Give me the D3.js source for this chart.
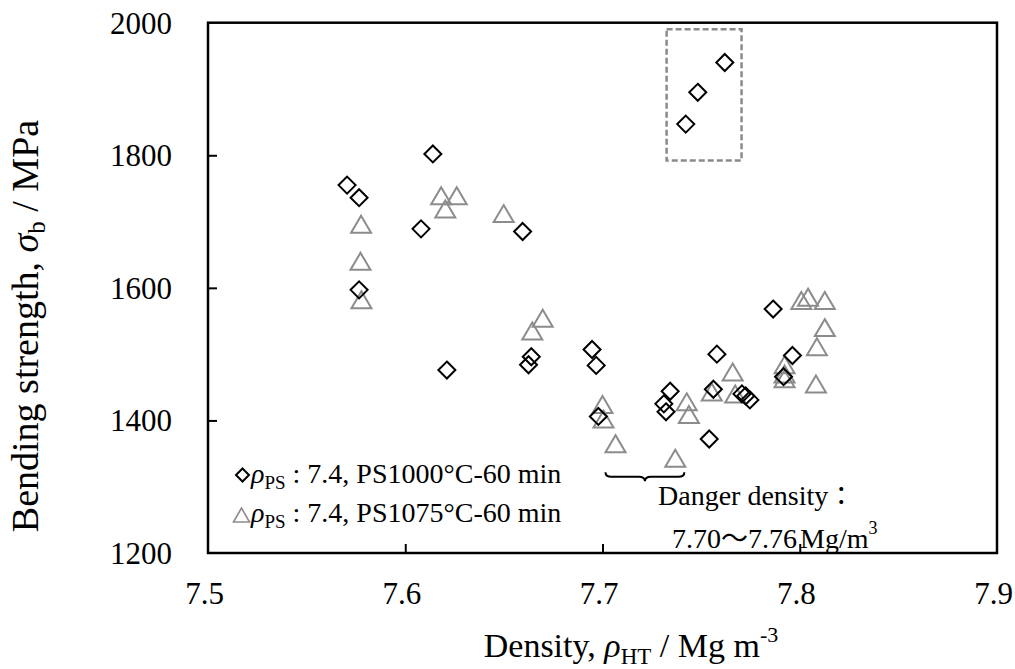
<!DOCTYPE html>
<html>
<head>
<meta charset="utf-8">
<script src="https://cdn.jsdelivr.net/npm/d3@7"></script>
<style>
  body { margin: 0; background: #fff; }
  svg { display: block; }
  text, tspan { font-family: "Liberation Serif", "Times New Roman", serif; fill: #000; }
  tspan.cjk { font-family: "Noto Sans CJK JP", "Noto Sans CJK SC", sans-serif; }
</style>
</head>
<body>
<svg id="chart" width="1015" height="669"></svg>
<script>
// Sintered at 1000 °C for 60 min: density (Mg/m^3) and bending strength (MPa)
const ps1000Density  = [7.5705, 7.5766, 7.5766, 7.6140, 7.6080, 7.6595, 7.6211, 7.6639, 7.6625,
                        7.6947, 7.6968, 7.6979, 7.7311, 7.7322, 7.7343, 7.7541, 7.7562, 7.7580,
                        7.7707, 7.7726, 7.7747, 7.7865, 7.7963, 7.7918, 7.7422, 7.7483, 7.7620];
const ps1000Strength = [1755, 1736, 1597, 1802, 1689, 1685, 1476, 1496, 1484,
                        1507, 1483, 1406, 1425, 1413, 1444, 1372, 1447, 1500,
                        1440, 1437, 1431, 1568, 1498, 1466, 1847, 1895, 1940];

// Sintered at 1075 °C for 60 min
const ps1075Density  = [7.5776, 7.5773, 7.5778, 7.6182, 7.6203, 7.6261, 7.6499, 7.6644, 7.6697,
                        7.7000, 7.7005, 7.7066, 7.7369, 7.7427, 7.7438, 7.7554, 7.7660, 7.7673,
                        7.7923, 7.7923, 7.7923, 7.8008, 7.8042, 7.8127, 7.8127, 7.8087, 7.8082];
const ps1075Strength = [1696, 1640, 1582, 1739, 1719, 1739, 1712, 1535, 1554,
                        1424, 1402, 1365, 1343, 1428, 1409, 1443, 1473, 1440,
                        1484, 1470, 1463, 1581, 1586, 1581, 1540, 1511, 1455];

// Highlighted high-strength group (dashed box) and danger-density brace
const boxDensity  = [7.7325, 7.7705];
const boxStrength = [1792, 1990];
const braceDensity = [7.7015, 7.7415];
const braceStrength = 1322;

const xTicks = [7.5, 7.6, 7.7, 7.8, 7.9];
const yTicks = [1200, 1400, 1600, 1800, 2000];

const svg = d3.select("#chart");
const plot = { left: 208, right: 997, top: 22.7, bottom: 553 };
const serif = '"Liberation Serif", "Times New Roman", serif';

const x = d3.scaleLinear().domain([7.5, 7.9]).range([plot.left, plot.right]);
const y = d3.scaleLinear().domain([1200, 2000]).range([plot.bottom, plot.top]);

// Axes with inward ticks
const xAxis = svg.append("g").attr("transform", `translate(0,${plot.bottom})`)
  .call(d3.axisBottom(x).tickValues(xTicks).tickSizeInner(-9).tickSizeOuter(0)
        .tickFormat(d3.format(".1f")));
xAxis.select(".domain").remove();
xAxis.attr("font-family", serif);
xAxis.selectAll(".tick line").attr("stroke", "#000").attr("stroke-width", 2);
xAxis.selectAll(".tick text").attr("font-size", 31).attr("y", 51).attr("dy", 0)
  .attr("dx", -4).attr("fill", "#000").style("font-family", serif);
xAxis.selectAll(".tick").filter(d => d === 7.5 || d === 7.9).select("line").remove();

const yAxis = svg.append("g").attr("transform", `translate(${plot.left},0)`)
  .call(d3.axisLeft(y).tickValues(yTicks).tickSizeInner(-9).tickSizeOuter(0)
        .tickFormat(d3.format("d")));
yAxis.select(".domain").remove();
yAxis.attr("font-family", serif);
yAxis.selectAll(".tick line").attr("stroke", "#000").attr("stroke-width", 2);
yAxis.selectAll(".tick text").attr("font-size", 31).attr("x", -36).attr("dy", "0.34em")
  .attr("fill", "#000").style("font-family", serif);
yAxis.selectAll(".tick").filter(d => d === 1200 || d === 2000).select("line").remove();

// Plot frame
svg.append("rect")
  .attr("x", x(7.5)).attr("y", y(2000))
  .attr("width", x(7.9) - x(7.5)).attr("height", y(1200) - y(2000))
  .attr("fill", "none").attr("stroke", "#000").attr("stroke-width", 2.5);

// Dashed box round the high-strength group
svg.append("rect")
  .attr("x", x(boxDensity[0])).attr("y", y(boxStrength[1]))
  .attr("width", x(boxDensity[1]) - x(boxDensity[0]))
  .attr("height", y(boxStrength[0]) - y(boxStrength[1]))
  .attr("fill", "none").attr("stroke", "#8a8a8a").attr("stroke-width", 2.5)
  .attr("stroke-dasharray", "6,3");

// Marker shapes
const diamondPath = (cx, cy, r) => `M${cx},${cy - r}L${cx + r},${cy}L${cx},${cy + r}L${cx - r},${cy}Z`;
const trianglePath = (cx, cy, w, h) =>
  `M${cx},${cy - h / 2}L${cx + w / 2},${cy + h / 2}L${cx - w / 2},${cy + h / 2}Z`;

const tri = d3.range(ps1075Density.length).map(i => [ps1075Density[i], ps1075Strength[i]]);
const dia = d3.range(ps1000Density.length).map(i => [ps1000Density[i], ps1000Strength[i]]);

svg.append("g").selectAll("path").data(tri).join("path")
  .attr("d", d => trianglePath(x(d[0]), y(d[1]), 20, 17))
  .attr("fill", "none").attr("stroke", "#8c8c8c").attr("stroke-width", 2);

svg.append("g").selectAll("path").data(dia).join("path")
  .attr("d", d => diamondPath(x(d[0]), y(d[1]), 8.5))
  .attr("fill", "none").attr("stroke", "#000").attr("stroke-width", 2);

// Brace under the danger-density range
{
  const x0 = x(braceDensity[0]), x1 = x(braceDensity[1]);
  const xm = (x0 + x1) / 2, yt = y(braceStrength), h = 4.5;
  svg.append("path")
    .attr("d", `M${x0},${yt}Q${x0},${yt + h} ${x0 + 6},${yt + h}L${xm - 6},${yt + h}` +
               `Q${xm},${yt + h} ${xm},${yt + 2 * h}Q${xm},${yt + h} ${xm + 6},${yt + h}` +
               `L${x1 - 6},${yt + h}Q${x1},${yt + h} ${x1},${yt}`)
    .attr("fill", "none").attr("stroke", "#000").attr("stroke-width", 2);
}

// Annotation
{
  const t = svg.append("text").attr("x", 658).attr("y", 505).attr("font-size", 28);
  t.append("tspan").text("Danger density");
  t.append("tspan").attr("class", "cjk").attr("font-size", 26).text("：");
}
{
  const t = svg.append("text").attr("x", 672).attr("y", 548).attr("font-size", 28);
  t.append("tspan").text("7.70");
  t.append("tspan").attr("class", "cjk").attr("font-size", 27).text("～");
  t.append("tspan").text("7.76");
  t.append("tspan").attr("dx", 3).text("Mg/m");
  t.append("tspan").attr("font-size", 18).attr("dy", -14).text("3");
}

// Legend
const legend = [
  { label: "PS1000°C-60 min", shape: "diamond", y: 483 },
  { label: "PS1075°C-60 min", shape: "triangle", y: 522 }
];
legend.forEach(item => {
  if (item.shape === "diamond") {
    svg.append("path").attr("d", diamondPath(242.5, item.y - 8, 6.5))
      .attr("fill", "none").attr("stroke", "#000").attr("stroke-width", 2);
  } else {
    svg.append("path").attr("d", trianglePath(241.5, item.y - 7, 16, 14))
      .attr("fill", "none").attr("stroke", "#8c8c8c").attr("stroke-width", 1.6);
  }
  const t = svg.append("text").attr("x", 251).attr("y", item.y).attr("font-size", 28);
  t.append("tspan").attr("font-style", "italic").text("ρ");
  t.append("tspan").attr("font-size", 19).attr("dy", 6).text("PS");
  t.append("tspan").attr("dy", -6).text(" : 7.4, " + item.label);
});

// Axis titles
{
  const t = svg.append("text").attr("x", 631).attr("y", 657).attr("font-size", 34)
    .attr("text-anchor", "middle");
  t.append("tspan").text("Density, ");
  t.append("tspan").attr("font-style", "italic").text("ρ");
  t.append("tspan").attr("font-size", 23).attr("dy", 7).text("HT");
  t.append("tspan").attr("dy", -7).text(" / Mg m");
  t.append("tspan").attr("font-size", 22).attr("dy", -15).text("-3");
}
{
  const t = svg.append("text").attr("transform", "translate(38,326) rotate(-90)")
    .attr("font-size", 38).attr("text-anchor", "middle");
  t.append("tspan").text("Bending strength, ");
  t.append("tspan").attr("font-style", "italic").text("σ");
  t.append("tspan").attr("font-size", 25).attr("dy", 7).text("b");
  t.append("tspan").attr("dy", -7).text(" / MPa");
}
</script>
</body>
</html>
